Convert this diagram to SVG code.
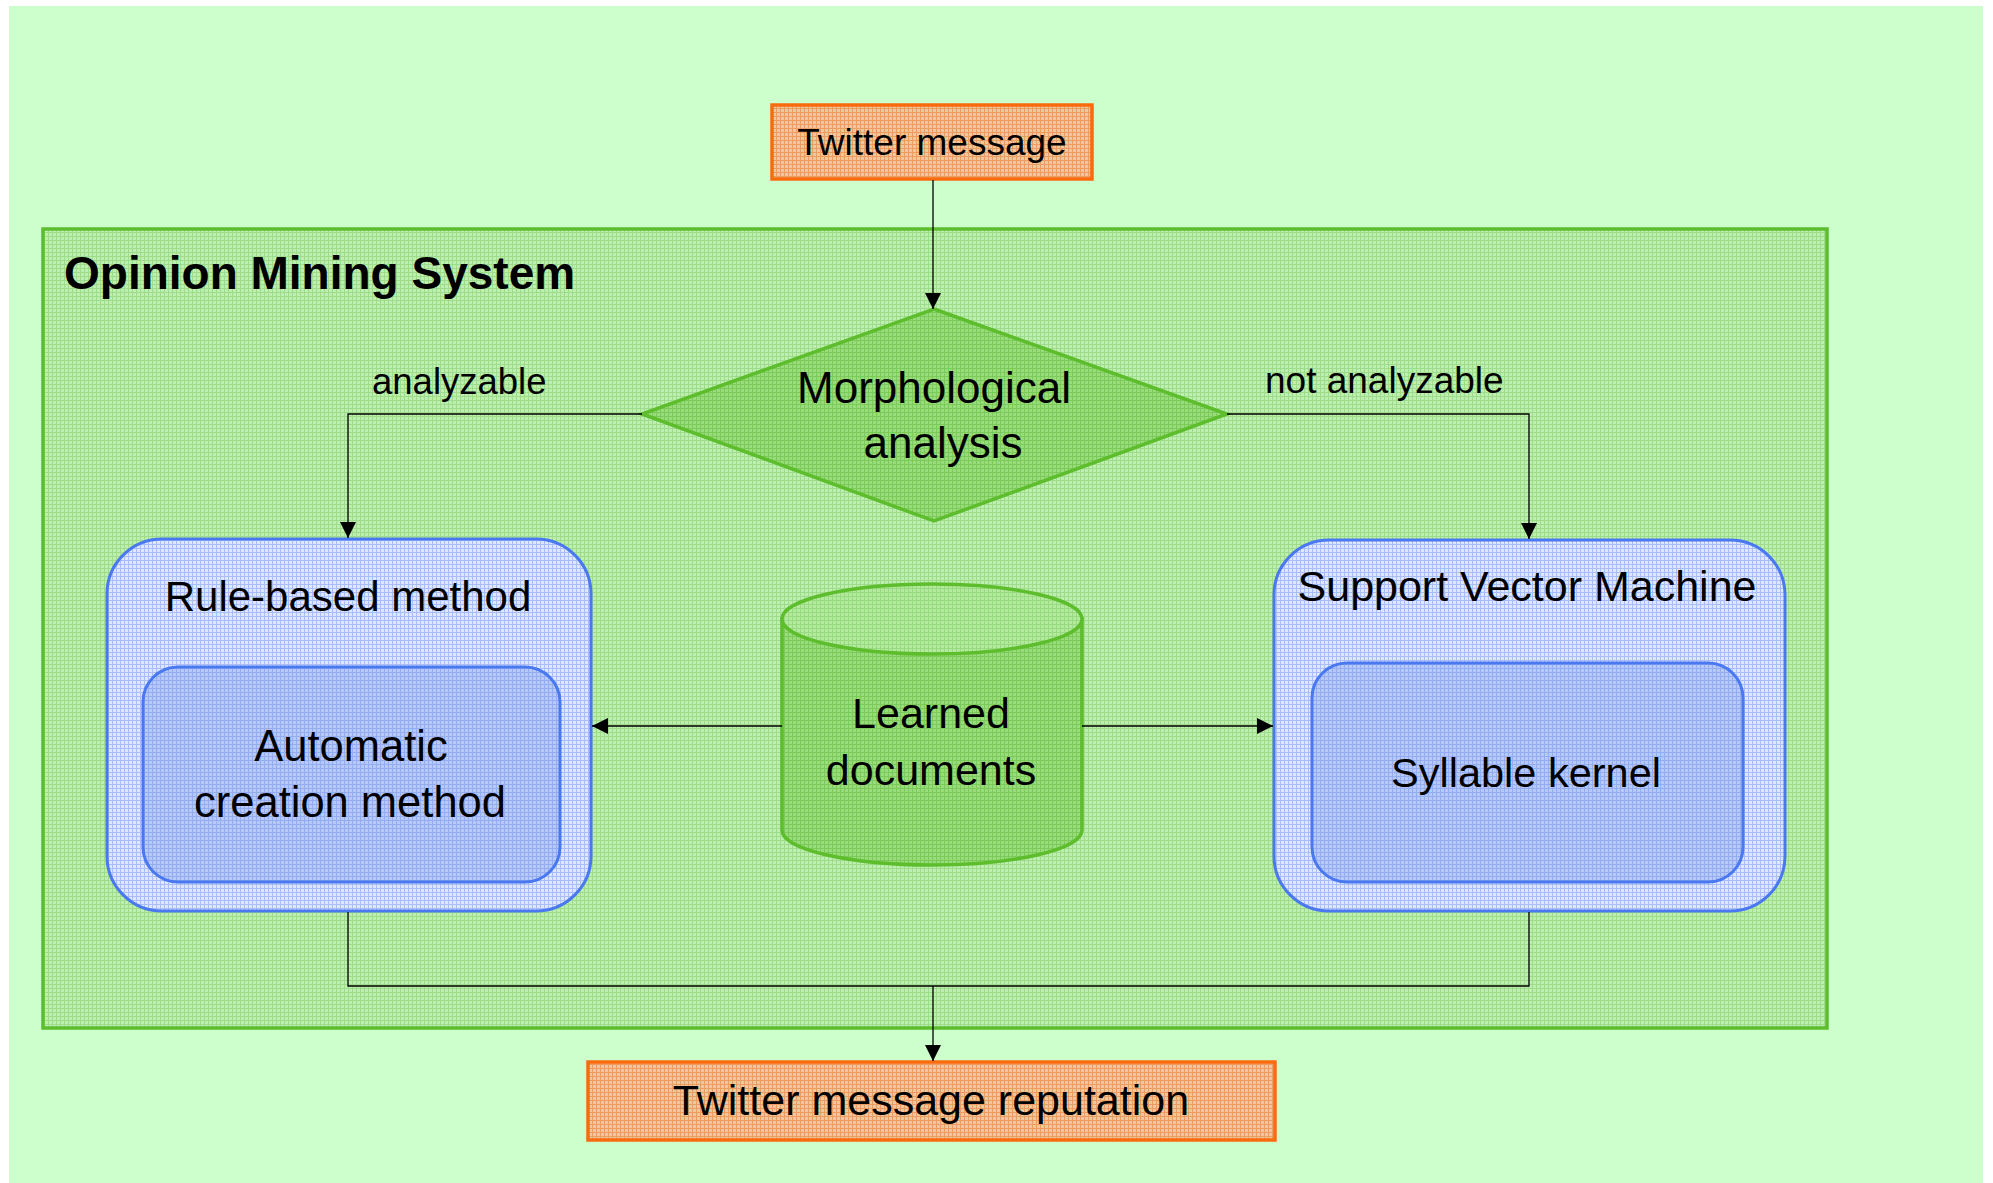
<svg xmlns="http://www.w3.org/2000/svg" width="1993" height="1183" viewBox="0 0 1993 1183">
<defs>
<style>
text{font-family:"Liberation Sans",Arial,sans-serif;fill:#000}
.c{text-anchor:middle}
.conn{fill:none;stroke:#000;stroke-width:1.3}
.gs{stroke:#5DBD2C;stroke-width:3.5}
.bs{stroke:#4A78F0;stroke-width:3}
.os{stroke:#FA6A0E;stroke-width:3.5}
</style>
<pattern id="pg" width="4" height="4" patternUnits="userSpaceOnUse">
<rect width="4" height="4" fill="#BDF0B0"/>
<path d="M0,0.5H4M0.5,0V4" stroke="#9EDC8C" stroke-width="1"/>
</pattern>
<pattern id="pd" width="4" height="4" patternUnits="userSpaceOnUse">
<rect width="4" height="4" fill="#98DC7C"/>
<path d="M0,0.5H4M0.5,0V4" stroke="#7CCB5A" stroke-width="1"/>
</pattern>
<pattern id="pt" width="4" height="4" patternUnits="userSpaceOnUse">
<rect width="4" height="4" fill="#B4EA9E"/>
<path d="M0,0.5H4M0.5,0V4" stroke="#98DA80" stroke-width="1"/>
</pattern>
<pattern id="pb1" width="4" height="4" patternUnits="userSpaceOnUse">
<rect width="4" height="4" fill="#DEE7FD"/>
<path d="M0,0.5H4M0.5,0V4" stroke="#A9BEF6" stroke-width="1"/>
</pattern>
<pattern id="pb2" width="4" height="4" patternUnits="userSpaceOnUse">
<rect width="4" height="4" fill="#B6C9F8"/>
<path d="M0,0.5H4M0.5,0V4" stroke="#93ADF0" stroke-width="1"/>
</pattern>
<pattern id="po" width="4" height="4" patternUnits="userSpaceOnUse">
<rect width="4" height="4" fill="#EFC79C"/>
<path d="M0,0.5H4M0.5,0V4" stroke="#E89E62" stroke-width="1"/>
</pattern>
<marker id="ah" viewBox="0 0 10 10" refX="10" refY="5" markerWidth="16" markerHeight="16" markerUnits="userSpaceOnUse" orient="auto">
<path d="M0,0L10,5L0,10z" fill="#000"/>
</marker>
</defs>
<rect x="0" y="0" width="1993" height="1183" fill="#FFFFFF"/>
<rect x="9" y="6" width="1974" height="1177" fill="#CCFFCC"/>

<g id="system">
<rect x="43" y="229" width="1784" height="799" fill="url(#pg)" class="gs"/>
<text x="64" y="289" font-size="46" font-weight="bold">Opinion Mining System</text>
</g>

<g id="twitter-message">
<rect x="772" y="105" width="320" height="74" fill="url(#po)" class="os"/>
<text class="c" x="932" y="155" font-size="37">Twitter message</text>
</g>

<g id="morphological-analysis">
<polygon points="934,309 1227,414 934,521 642,414" fill="url(#pd)" class="gs"/>
<text class="c" x="934" y="403" font-size="44">Morphological</text>
<text class="c" x="943" y="458" font-size="44">analysis</text>
</g>

<g id="rule-based-method">
<rect x="107" y="539" width="484" height="372" rx="55" ry="55" fill="url(#pb1)" class="bs"/>
<text class="c" x="348" y="611" font-size="42">Rule-based method</text>
<g id="automatic-creation-method">
<rect x="143" y="667" width="417" height="215" rx="35" ry="35" fill="url(#pb2)" class="bs"/>
<text class="c" x="351" y="761" font-size="43.5">Automatic</text>
<text class="c" x="350" y="817" font-size="43.5">creation method</text>
</g>
</g>

<g id="learned-documents">
<path d="M782,619V830A150,35 0 0 0 1082,830V619z" fill="url(#pd)" class="gs"/>
<ellipse cx="932" cy="619" rx="150" ry="35" fill="url(#pt)" class="gs"/>
<text class="c" x="931" y="728" font-size="43">Learned</text>
<text class="c" x="931" y="785" font-size="43">documents</text>
</g>

<g id="support-vector-machine">
<rect x="1274" y="540" width="511" height="371" rx="55" ry="55" fill="url(#pb1)" class="bs"/>
<text class="c" x="1527" y="601" font-size="43">Support Vector Machine</text>
<g id="syllable-kernel">
<rect x="1312" y="663" width="431" height="219" rx="35" ry="35" fill="url(#pb2)" class="bs"/>
<text class="c" x="1526" y="787" font-size="41.5">Syllable kernel</text>
</g>
</g>

<g id="twitter-message-reputation">
<rect x="588" y="1062" width="687" height="78" fill="url(#po)" class="os"/>
<text class="c" x="931" y="1115" font-size="43">Twitter message reputation</text>
</g>

<g id="connectors">
<path class="conn" d="M933,180V309" marker-end="url(#ah)"/>
<path class="conn" d="M642,414H348V538" marker-end="url(#ah)"/>
<path class="conn" d="M1227,414H1529V539" marker-end="url(#ah)"/>
<path class="conn" d="M782,726H592" marker-end="url(#ah)"/>
<path class="conn" d="M1082,726H1273" marker-end="url(#ah)"/>
<path class="conn" d="M348,912V986H1529V912"/>
<path class="conn" d="M933,986V1061" marker-end="url(#ah)"/>
<text x="372" y="394" font-size="36.5">analyzable</text>
<text x="1265" y="393" font-size="37">not analyzable</text>
</g>
</svg>
